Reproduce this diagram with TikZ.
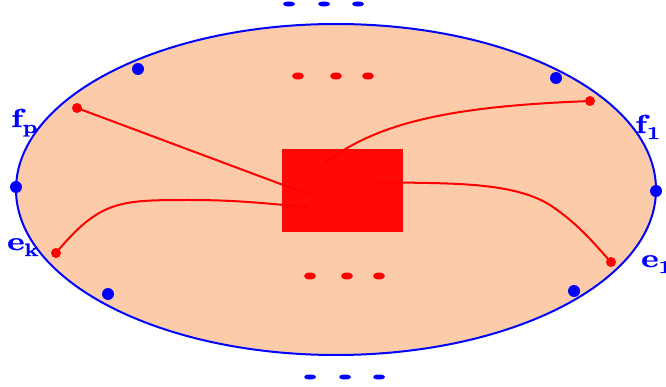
\documentclass[tikz,border=0pt]{standalone}
\usepackage{fontspec}
\usepackage{graphicx}
\usetikzlibrary{shapes.geometric}
\newfontfamily\labfont{Latin Modern Roman}[FakeBold=1.2]
\definecolor{peach}{RGB}{252,204,170}
\definecolor{myred}{RGB}{255,8,8}
\newcommand{\lbl}[2]{\scalebox{1.3}[1]{\fontsize{26}{26}\labfont\bfseries #1\raisebox{-6pt}{\fontsize{18}{18}\selectfont #2}}}
\begin{document}
\begin{tikzpicture}[x=1pt,y=-1pt,
  bdot/.style={circle,fill=blue,inner sep=0pt,minimum size=12pt},
  rdot/.style={circle,fill=red,inner sep=0pt,minimum size=10pt},
  fdot/.style={ellipse,fill=#1,inner sep=0pt,minimum width=12pt,minimum height=7pt},
  wire/.style={red,line width=2pt},
  lab/.style={blue,inner sep=0pt,anchor=base west}]
\useasboundingbox (0,0) rectangle (666,387);
\draw[blue,line width=2pt,fill=peach] (336,189.5) ellipse [x radius=320, y radius=165.5];
\node[fill=myred,minimum width=121pt,minimum height=83pt,inner sep=0pt] (box) at (342.5,190.5) {};
% dots on ellipse
\node[bdot] (b1) at (138,69) {};
\node[bdot] (b2) at (556,78) {};
\node[bdot] (b3) at (16,187) {};
\node[bdot] (b4) at (656,191) {};
\node[bdot] (b5) at (108,294) {};
\node[bdot] (b6) at (574,291) {};
\node[rdot] (fp) at (77,108) {};
\node[rdot] (f1) at (590,101) {};
\node[rdot] (ek) at (56,253) {};
\node[rdot] (e1) at (611,262) {};
% end points inside the box
\coordinate (pfp) at (310,195);
\coordinate (pf1) at (325,163);
\coordinate (pek) at (307,207);
\coordinate (pe1) at (378,182);
\draw[wire] (fp.center) -- (pfp);
\draw[wire] (pf1) .. controls (380,120) and (460,106) .. (f1.center);
\draw[wire] (ek.center) .. controls (100,200) and (120,200) .. (190,200) .. controls (240,200) and (270,204) .. (pek);
\draw[wire] (pe1) .. controls (440,184) and (510,180) .. (550,205) .. controls (580,225) and (595,245) .. (e1.center);
% inner red dots
\foreach \x/\n in {298/t1,336/t2,368/t3} \node[fdot=red] (\n) at (\x,76) {};
\foreach \x/\n in {310/u1,347/u2,379/u3} \node[fdot=red] (\n) at (\x,276) {};
% outer blue dots
\foreach \x/\n in {289/o1,324/o2,358/o3} \node[fdot=blue,minimum height=5pt] (\n) at (\x,4) {};
\foreach \x/\n in {310/p1,345/p2,379/p3} \node[fdot=blue,minimum height=5pt] (\n) at (\x,377) {};
% labels
\node[lab] (lfp) at (11,127) {\lbl{f}{p}};
\node[lab] (lf1) at (635,133) {\lbl{f}{1}};
\node[lab] (lek) at (7,250) {\lbl{e}{k}};
\node[lab] (le1) at (641,267) {\lbl{e}{1}};
\end{tikzpicture}
\end{document}
